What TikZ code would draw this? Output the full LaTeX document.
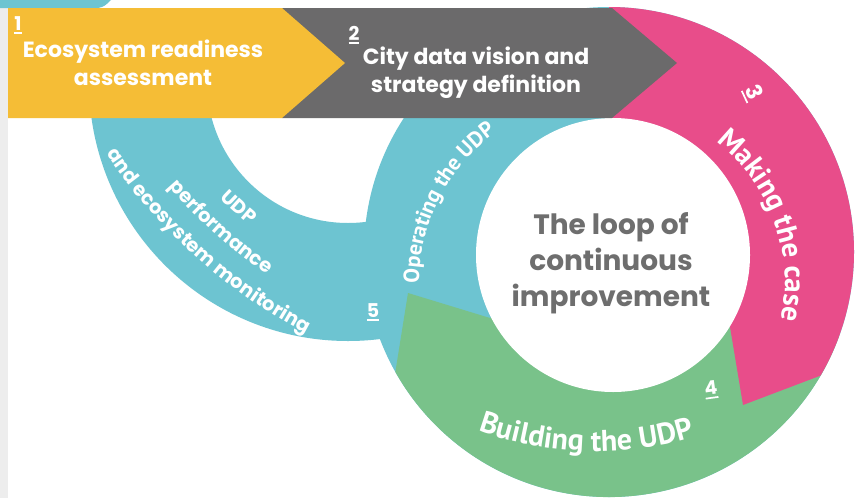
\documentclass[tikz,border=0pt]{standalone}
\usepackage{fontspec}
\setmainfont{Poppins}
\newfontfamily\condfont{PT Sans}
\usetikzlibrary{decorations.text}
\definecolor{cyel}{HTML}{F5BD36}
\definecolor{cgray}{HTML}{6B6A6B}
\definecolor{cpink}{HTML}{E84D8A}
\definecolor{cteal}{HTML}{6DC4D1}
\definecolor{cgreen}{HTML}{79C28A}
\definecolor{lgray}{HTML}{EDEDED}
\definecolor{ctext}{HTML}{6E6E6E}
\newcommand{\ulnum}[1]{\setbox0=\hbox{#1}\vtop{\copy0\kern2pt\hrule height 1.7pt width \wd0}}
\newcommand{\ringtext}[6]{\path[decorate,decoration={text along path,text align=center,text={|#5|#6}}] (#1) ++(#3:#2) arc (#3:#4:#2);}
\newcommand{\whitetext}[6]{\ringtext{#1}{#2}{#3}{#4}{\color{white}#5}{#6}}
\tikzset{
  numlabel/.style={text=white, font=\bfseries\fontsize{19}{19}\selectfont, inner sep=0pt},
  bannertext/.style={text=white, font=\bfseries\fontsize{22}{28}\selectfont, align=center, inner sep=0pt},
  looptext/.style={text=ctext, font=\bfseries\fontsize{28}{36}\selectfont, align=center, inner sep=0pt}
}
\begin{document}
\begin{tikzpicture}[x=1pt,y=1pt]
\useasboundingbox (0,0) rectangle (859,-498);
\fill[white] (0,0) rectangle (859,-498);
\fill[lgray] (0,-8) rectangle (8,-498);
\fill[cteal] (0,0) -- (111,0) .. controls (106,-5) and (104,-7) .. (98,-8) -- (0,-8) -- cycle;
% left loop
\begin{scope}
\clip (0,-100) rectangle (859,-498);
\fill[cteal, even odd rule] (348,-82) circle (259) (348,-82) circle (141);
\end{scope}
% main ring
\fill[cteal] (609,-252) circle (245);
\fill[cgreen] (609,-252) ++(-20:245) arc (-20:-150.7:245) -- (408,-293) -- (490,-318) -- (609,-252) -- cycle;
\fill[cpink] (609,-252) ++(90:245) arc (90:-30.3:245) -- (743,-405) -- (730,-327) -- (609,-252) -- cycle;
\fill[white] (613,-255) circle (137);
% banner
\fill[cgray] (282,-8) -- (612,-8) -- (677,-63) -- (612,-118) -- (282,-118) -- cycle;
\fill[cyel] (8,-8) -- (282,-8) -- (345,-63) -- (282,-118) -- (8,-118) -- cycle;
\node[bannertext] (s1) at (143,-63) {Ecosystem readiness\\assessment};
\node[bannertext] (s2) at (476,-73) {City data vision and\\strategy definition};
\node[numlabel] (n1) at (18,-25) {\ulnum{1}};
\node[numlabel] (n2) at (354,-35) {\ulnum{2}};
\node[numlabel, font=\bfseries\fontsize{22}{22}\selectfont, rotate=-65] (n3) at (753,-93) {\ulnum{3}};
\node[numlabel, rotate=8] (n4) at (711,-390) {\ulnum{4}};
\node[numlabel] (n5) at (373,-312) {\ulnum{5}};
\node[looptext] (loop) at (611,-263) {The loop of\\continuous\\improvement};
% curved labels
\whitetext{605,-283}{180}{62}{-22}{\condfont\bfseries\fontsize{29}{29}\selectfont}{Making the case}
\whitetext{605,-283}{186}{190}{116}{\condfont\bfseries\fontsize{22}{22}\selectfont}{Operating the UDP}
\whitetext{595,-102}{349}{-120}{-63}{\condfont\bfseries\fontsize{30}{30}\selectfont}{Building the UDP}
\whitetext{567.7,158}{557}{203}{253}{\bfseries\fontsize{19.5}{19.5}\selectfont}{and ecosystem monitoring}
\whitetext{567.7,158}{527}{203}{253}{\bfseries\fontsize{19.5}{19.5}\selectfont}{performance}
\whitetext{567.7,158}{498}{203}{253}{\bfseries\fontsize{19.5}{19.5}\selectfont}{UDP}
\end{tikzpicture}
\end{document}
